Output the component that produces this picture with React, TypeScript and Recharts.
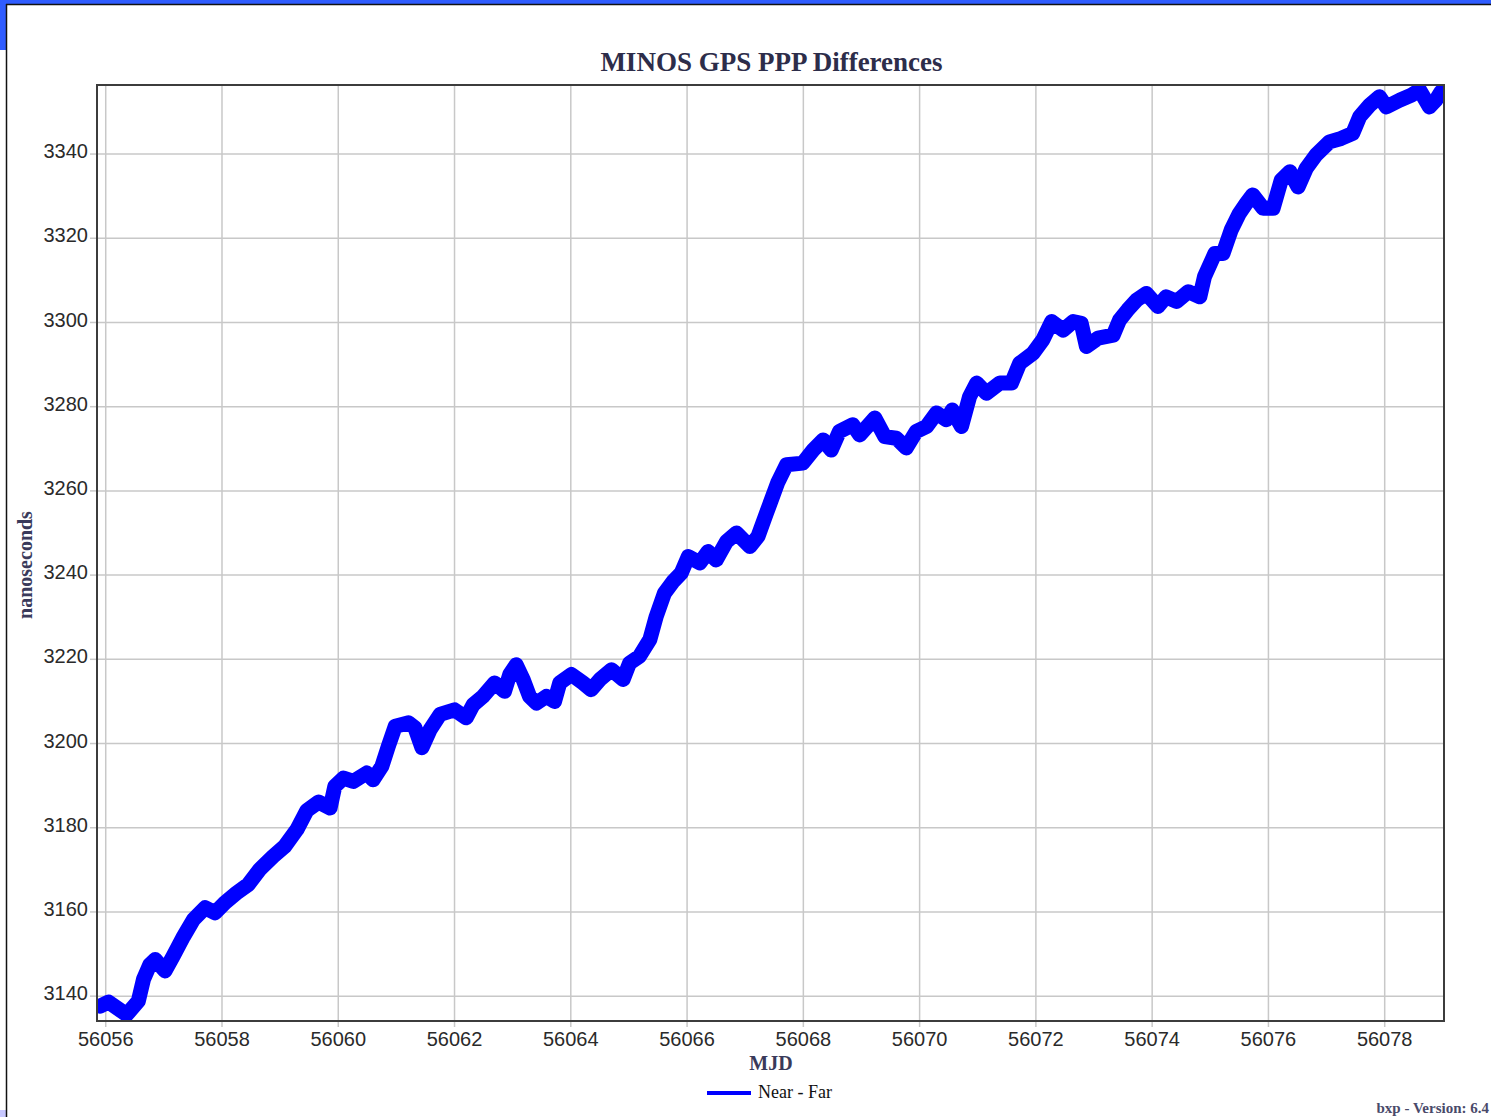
import React from 'react';
import { LineChart, Line, XAxis, YAxis, CartesianGrid } from 'recharts';

const mjd = [
  56055.9, 56056.05, 56056.36, 56056.56, 56056.65, 56056.76, 56056.85, 56057.02, 56057.16, 56057.34,
  56057.51, 56057.71, 56057.88, 56058.05, 56058.25, 56058.45, 56058.65, 56058.88, 56059.08, 56059.29,
  56059.46, 56059.66, 56059.86, 56059.94, 56060.09, 56060.26, 56060.49, 56060.6, 56060.75, 56060.86,
  56060.98, 56061.21, 56061.32, 56061.44, 56061.58, 56061.75, 56062.0, 56062.2, 56062.32, 56062.49,
  56062.69, 56062.86, 56062.95, 56063.06, 56063.18, 56063.29, 56063.41, 56063.58, 56063.72, 56063.81,
  56064.01, 56064.21, 56064.35, 56064.5, 56064.7, 56064.9, 56065.01, 56065.18, 56065.36, 56065.47,
  56065.61, 56065.76, 56065.9, 56066.02, 56066.22, 56066.36, 56066.5, 56066.68, 56066.85, 56067.08,
  56067.22, 56067.36, 56067.56, 56067.71, 56067.99, 56068.17, 56068.34, 56068.48, 56068.62, 56068.85,
  56068.97, 56069.23, 56069.4, 56069.6, 56069.77, 56069.94, 56070.12, 56070.29, 56070.46, 56070.56,
  56070.72, 56070.86, 56070.98, 56071.15, 56071.38, 56071.58, 56071.72, 56071.95, 56072.12, 56072.27,
  56072.47, 56072.64, 56072.78, 56072.87, 56073.07, 56073.33, 56073.44, 56073.58, 56073.73, 56073.9,
  56074.1, 56074.24, 56074.42, 56074.62, 56074.82, 56074.9, 56075.08, 56075.22, 56075.36, 56075.5,
  56075.62, 56075.73, 56075.91, 56076.08, 56076.22, 56076.37, 56076.51, 56076.65, 56076.82, 56077.05,
  56077.25, 56077.45, 56077.57, 56077.74, 56077.91, 56078.03, 56078.26, 56078.46, 56078.6, 56078.77,
  56078.88, 56078.97,
];

const nearMinusFar = [
  3137.6, 3138.6, 3135.6, 3138.8, 3144.0, 3147.5, 3148.7, 3146.0, 3149.5, 3154.2,
  3158.2, 3161.0, 3159.8, 3162.2, 3164.5, 3166.5, 3170.1, 3173.2, 3175.6, 3179.6,
  3184.1, 3186.1, 3184.7, 3189.8, 3191.8, 3191.0, 3193.0, 3191.4, 3194.6, 3199.3,
  3204.1, 3204.9, 3203.7, 3199.0, 3203.3, 3206.9, 3208.0, 3206.1, 3209.2, 3211.2,
  3214.4, 3212.4, 3216.4, 3218.7, 3215.2, 3211.2, 3209.6, 3211.2, 3210.0, 3214.4,
  3216.4, 3214.4, 3212.8, 3215.2, 3217.5, 3215.2, 3219.1, 3220.7, 3224.7, 3230.2,
  3235.7, 3238.5, 3240.5, 3244.4, 3242.9, 3245.6, 3243.6, 3248.0, 3250.0, 3246.8,
  3249.2, 3254.5, 3262.0, 3266.2, 3266.6, 3269.7, 3272.1, 3269.7, 3274.1, 3275.7,
  3273.3, 3277.3, 3272.9, 3272.5, 3270.2, 3274.1, 3275.3, 3278.5, 3276.9, 3279.2,
  3275.3, 3282.4, 3285.6, 3283.2, 3285.6, 3285.6, 3290.3, 3292.7, 3295.9, 3300.2,
  3298.2, 3300.2, 3299.8, 3294.3, 3296.3, 3297.0, 3300.6, 3303.0, 3305.3, 3306.9,
  3303.8, 3306.1, 3305.0, 3307.3, 3306.1, 3310.9, 3316.4, 3316.4, 3322.0, 3325.9,
  3328.3, 3330.3, 3327.1, 3327.1, 3333.8, 3335.8, 3332.2, 3336.6, 3339.8, 3342.9,
  3343.7, 3344.9, 3348.9, 3351.6, 3353.6, 3351.2, 3352.8, 3354.0, 3355.2, 3351.2,
  3352.8, 3354.8,
];

const xTicks = [56056, 56058, 56060, 56062, 56064, 56066, 56068, 56070, 56072, 56074, 56076, 56078];
const yTicks = [3140, 3160, 3180, 3200, 3220, 3240, 3260, 3280, 3300, 3320, 3340];

const title = 'MINOS GPS PPP Differences';
const xLabel = 'MJD';
const yLabel = 'nanoseconds';
const seriesName = 'Near - Far';
const versionText = 'bxp - Version: 6.4';

const data = mjd.map((m, i) => ({ mjd: m, value: nearMinusFar[i] }));

const W = 1491;
const H = 1117;
const SERIF = '"Liberation Serif", "Times New Roman", serif';
const SANS = '"Liberation Sans", Arial, sans-serif';

const YTick = (props: any) => {
  const { x, y, payload } = props;
  return (
    <text x={x} y={y - 3} dy="0.355em" textAnchor="end" fontFamily={SANS} fontSize={20} fill="#2a2a2a">
      {payload.value}
    </text>
  );
};

export default function App() {
  return (
    <div style={{ position: 'absolute', left: 0, top: 0, width: W, height: H, background: '#fff', overflow: 'hidden' }}>
      <div style={{ position: 'absolute', left: 0, top: 0 }}>
        <LineChart width={W} height={H} data={data} margin={{ top: 85, right: 47, bottom: 0, left: 0 }}>
          <CartesianGrid stroke="#c8c8c8" strokeWidth={1.5} />
          <XAxis
            dataKey="mjd"
            type="number"
            domain={[56055.85, 56079.02]}
            ticks={xTicks}
            allowDataOverflow
            height={96}
            axisLine={false}
            tickLine={{ stroke: '#c8c8c8', strokeWidth: 1.5 }}
            tickSize={6}
            tickMargin={5}
            tick={{ fontFamily: SANS, fontSize: 20, fill: '#2a2a2a' }}
            interval={0}
          />
          <YAxis
            type="number"
            domain={[3134.1, 3356.4]}
            ticks={yTicks}
            allowDataOverflow
            width={97}
            axisLine={false}
            tickLine={{ stroke: '#c8c8c8', strokeWidth: 1.5 }}
            tickSize={7}
            tickMargin={2}
            tick={<YTick />}
            interval={0}
          />
          <Line
            type="linear"
            dataKey="value"
            name={seriesName}
            stroke="#0000ff"
            strokeWidth={15}
            strokeLinejoin="round"
            strokeLinecap="round"
            dot={false}
            isAnimationActive={false}
          />
        </LineChart>
      </div>
      <svg width={W} height={H} style={{ position: 'absolute', left: 0, top: 0, pointerEvents: 'none' }}>
        <rect x={0} y={0} width={W} height={4} fill="#2f5cff" />
        <rect x={0} y={0} width={6} height={50} fill="#2f5cff" />
        <rect x={0} y={1110} width={6} height={7} fill="#c8c8ff" />
        <line x1={6.5} y1={4} x2={6.5} y2={H} stroke="#111" strokeWidth={1.5} />
        <line x1={6} y1={4.5} x2={W} y2={4.5} stroke="#111" strokeWidth={1.5} />
        <rect x={97} y={85} width={1347} height={936} fill="none" stroke="#3c3c3c" strokeWidth={2} />
        <text x={771.5} y={71} textAnchor="middle" fontFamily={SERIF} fontWeight="bold" fontSize={27} fill="#2d2d4a">
          {title}
        </text>
        <text x={771} y={1070} textAnchor="middle" fontFamily={SERIF} fontWeight="bold" fontSize={20} fill="#3a3a5a">
          {xLabel}
        </text>
        <text
          transform="translate(32,565) rotate(-90)"
          x={0}
          y={0}
          textAnchor="middle"
          fontFamily={SERIF}
          fontWeight="bold"
          fontSize={20}
          fill="#3a3a5a"
        >
          {yLabel}
        </text>
        <line x1={707} y1={1093} x2={751} y2={1093} stroke="#0000ff" strokeWidth={4} />
        <text x={758} y={1098} fontFamily={SERIF} fontSize={18} fill="#111">
          {seriesName}
        </text>
        <text x={1489} y={1113} textAnchor="end" fontFamily={SERIF} fontWeight="bold" fontSize={15} fill="#4a4a6a">
          {versionText}
        </text>
      </svg>
    </div>
  );
}
